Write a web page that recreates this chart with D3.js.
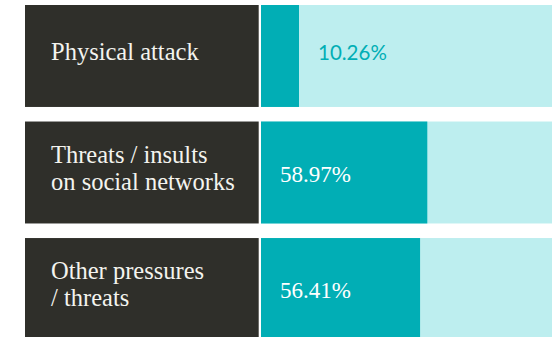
<!DOCTYPE html>
<html>
<head>
<meta charset="utf-8">
<script src="https://cdn.jsdelivr.net/npm/d3@7"></script>
<style>
  html, body { margin: 0; padding: 0; background: #ffffff; }
  svg { display: block; }
</style>
</head>
<body>
<svg id="chart" width="555" height="337"></svg>
<script>
// ---- data ----
const categories = ["Physical attack", "Threats / insults on social networks", "Other pressures / threats"];
const labelLines = [["Physical attack"], ["Threats / insults", "on social networks"], ["Other pressures", "/ threats"]];
const values = [10.26, 58.97, 56.41];
const valueLabels = ["10.26%", "58.97%", "56.41%"];

// ---- styles ----
const darkColor = "#2f2f2a";
const teal = "#01aeb5";
const lightTeal = "#bdeeef";

const svg = d3.select("#chart");

const y = d3.scaleBand()
  .domain(categories)
  .range([5, 340])
  .paddingInner(0.125)
  .paddingOuter(0);

const labelLeft = 25, labelRight = 258.7;
const trackLeft = 261, trackRight = 552;
const x = d3.scaleLinear().domain([0, 100]).range([trackLeft, trackLeft + 282]);
const minBar = 38;

const rows = svg.selectAll("g.row")
  .data(categories.map((c, i) => ({ c, i, v: values[i], lines: labelLines[i], lab: valueLabels[i] })))
  .join("g").attr("class", "row");

// label box
rows.append("rect")
  .attr("x", labelLeft)
  .attr("y", d => y(d.c))
  .attr("width", labelRight - labelLeft)
  .attr("height", y.bandwidth())
  .attr("fill", darkColor);

// track
rows.append("rect")
  .attr("x", trackLeft)
  .attr("y", d => y(d.c))
  .attr("width", trackRight - trackLeft)
  .attr("height", y.bandwidth())
  .attr("fill", lightTeal);

// bar
const barW = d => Math.max(x(d.v) - x(0), minBar);
rows.append("rect")
  .attr("x", x(0))
  .attr("y", d => y(d.c))
  .attr("width", barW)
  .attr("height", y.bandwidth())
  .attr("fill", teal);

// category labels
const lh = 26.7;
rows.append("text")
  .attr("font-family", "'Liberation Serif', 'Times New Roman', serif")
  .attr("font-size", 24.5)
  .attr("fill", "#f4f4ef")
  .each(function(d) {
    const cy = y(d.c) + y.bandwidth() / 2;
    const n = d.lines.length;
    d3.select(this).selectAll("tspan")
      .data(d.lines)
      .join("tspan")
      .attr("x", 51)
      .attr("y", (t, j) => cy + (j - (n - 1) / 2) * lh + 3.8)
      .text(t => t);
  });

// value labels
rows.append("text")
  .each(function(d) {
    const cy = y(d.c) + y.bandwidth() / 2;
    const inside = x(d.v) - x(0) > 90;
    const sel = d3.select(this);
    if (inside) {
      sel.attr("x", x(0) + 19)
        .attr("y", cy + 9)
        .attr("font-family", "'Liberation Serif', 'Times New Roman', serif")
        .attr("font-size", 23)
        .attr("fill", "#ffffff");
    } else {
      sel.attr("x", x(0) + barW(d) + 19)
        .attr("y", cy + 4.5)
        .attr("font-family", "Lato, 'Open Sans', sans-serif")
        .attr("font-size", 20.5)
        .attr("fill", teal);
    }
    sel.text(d.lab);
  });
</script>
</body>
</html>
